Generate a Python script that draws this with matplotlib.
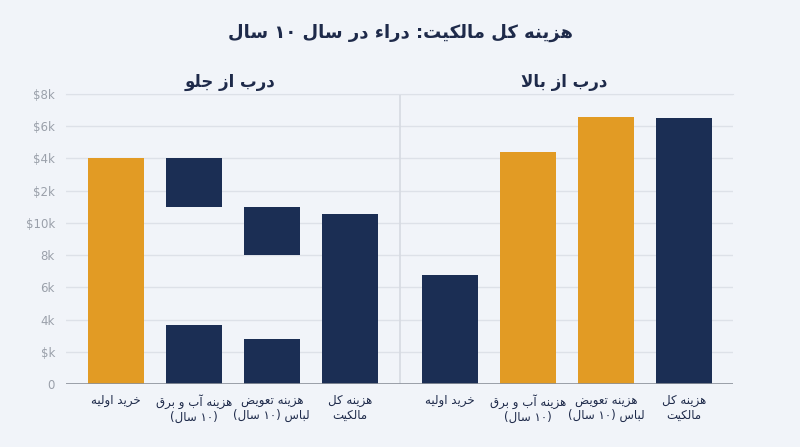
import matplotlib

matplotlib.use("Agg")
import matplotlib.pyplot as plt
import numpy as np

# values in $k
categories = ["خرید اولیه", "هزینه آب و برق\n(۱۰ سال)", "هزینه تعویض\nلباس (۱۰ سال)", "هزینه کل\nمالکیت"]
front_base = [14.0, 3.67, 2.79, 10.57]
front_float_low = [np.nan, 11.0, 8.0, np.nan]
front_float_high = [np.nan, 14.0, 11.0, np.nan]
top_values = [6.76, 14.37, 16.57, 16.5]
yticks = [0, 2, 4, 6, 8, 10, 12, 14, 16, 18]
ytick_labels = ["0", "$k", "4k", "6k", "8k", "$10k", "$2k", "$4k", "$6k", "$8k"]
title = "هزینه کل مالکیت: دراء در سال ۱۰ سال"
panel_titles = ["درب از جلو", "درب از بالا"]

ORANGE = "#e29b24"
NAVY = "#1b2e54"
BG = "#f1f4f9"
TEXT = "#1e2a4a"
GRID = "#dde1e8"
front_colors = [ORANGE, NAVY, NAVY, NAVY]
top_colors = [NAVY, ORANGE, ORANGE, NAVY]

# matplotlib has no arabic shaping, so pick presentation forms by hand
FORMS = {
    "ء": ("\uFE80", None, None, None),
    "آ": ("\uFE81", "\uFE82", None, None),
    "ا": ("\uFE8D", "\uFE8E", None, None),
    "ب": ("\uFE8F", "\uFE90", "\uFE91", "\uFE92"),
    "ت": ("\uFE95", "\uFE96", "\uFE97", "\uFE98"),
    "ج": ("\uFE9D", "\uFE9E", "\uFE9F", "\uFEA0"),
    "خ": ("\uFEA5", "\uFEA6", "\uFEA7", "\uFEA8"),
    "د": ("\uFEA9", "\uFEAA", None, None),
    "ر": ("\uFEAD", "\uFEAE", None, None),
    "ز": ("\uFEAF", "\uFEB0", None, None),
    "س": ("\uFEB1", "\uFEB2", "\uFEB3", "\uFEB4"),
    "ض": ("\uFEBD", "\uFEBE", "\uFEBF", "\uFEC0"),
    "ع": ("\uFEC9", "\uFECA", "\uFECB", "\uFECC"),
    "ق": ("\uFED5", "\uFED6", "\uFED7", "\uFED8"),
    "ل": ("\uFEDD", "\uFEDE", "\uFEDF", "\uFEE0"),
    "م": ("\uFEE1", "\uFEE2", "\uFEE3", "\uFEE4"),
    "ن": ("\uFEE5", "\uFEE6", "\uFEE7", "\uFEE8"),
    "ه": ("\uFEE9", "\uFEEA", "\uFEEB", "\uFEEC"),
    "و": ("\uFEED", "\uFEEE", None, None),
    "\u06A9": ("\uFB8E", "\uFB8F", "\uFB90", "\uFB91"),
    "\u06CC": ("\uFBFC", "\uFBFD", "\uFBFE", "\uFBFF"),
}
FORMS["\u0643"] = FORMS["\u06A9"]
FORMS["\u064A"] = FORMS["\u06CC"]
DIGITS = set("۰۱۲۳۴۵۶۷۸۹0123456789")


def _shape(text):
    out = []
    i = 0
    n = len(text)
    while i < n:
        c = text[i]
        if c not in FORMS:
            out.append(c)
            i += 1
            continue
        prev = text[i - 1] if i > 0 else None
        joins_prev = prev in FORMS and FORMS[prev][2] is not None
        if c == "ل" and i + 1 < n and text[i + 1] in ("ا", "آ"):
            lig = ("\uFEFB", "\uFEFC") if text[i + 1] == "ا" else ("\uFEF5", "\uFEF6")
            out.append(lig[1] if joins_prev else lig[0])
            i += 2
            continue
        nxt = text[i + 1] if i + 1 < n else None
        forms = FORMS[c]
        joins_next = forms[2] is not None and nxt in FORMS
        if joins_prev and joins_next:
            out.append(forms[3])
        elif joins_prev:
            out.append(forms[1])
        elif joins_next:
            out.append(forms[2])
        else:
            out.append(forms[0])
        i += 1
    return "".join(out)


def rtl(text):
    lines = []
    for line in text.split("\n"):
        rev = _shape(line)[::-1]
        # digit runs stay left to right, brackets get mirrored
        chars = []
        run = ""
        for ch in rev:
            if ch in DIGITS:
                run += ch
                continue
            if run:
                chars.append(run[::-1])
                run = ""
            chars.append({"(": ")", ")": "("}.get(ch, ch))
        if run:
            chars.append(run[::-1])
        lines.append("".join(chars))
    return "\n".join(lines)


plt.rcParams["font.family"] = ["DejaVu Sans"]

fig = plt.figure(figsize=(8.0, 4.47), dpi=100, facecolor=BG)
ax = fig.add_axes([0.0825, 0.1409, 0.834, 0.6488])
ax.set_facecolor(BG)

gap = 1.29
x_front = np.arange(len(categories))
x_top = x_front + len(categories) - 1 + gap
width = 0.72

ax.bar(x_front, front_base, width=width, color=front_colors, zorder=3)
float_h = np.array(front_float_high) - np.array(front_float_low)
ax.bar(x_front, float_h, bottom=front_float_low, width=width, color=NAVY, zorder=3)
ax.bar(x_top, top_values, width=width, color=top_colors, zorder=3)

ax.set_xlim(x_front[0] - 0.64, x_top[-1] + 0.63)
ax.set_ylim(0, 18)
ax.set_yticks(yticks)
ax.set_yticklabels(ytick_labels)
ax.yaxis.grid(True, color=GRID, linewidth=1.0, zorder=0)
ax.set_axisbelow(True)
for side in ["left", "right", "bottom"]:
    ax.spines[side].set_visible(False)
ax.spines["top"].set_color(GRID)
ax.axhline(0, color="#8c929c", linewidth=1.2, zorder=4)
ax.axvline((x_front[-1] + x_top[0]) / 2, color="#d6dae1", linewidth=1.2, zorder=1)
ax.tick_params(axis="y", length=0, pad=8, labelsize=8.5, labelcolor="#9aa0aa")

ax.set_xticks(np.concatenate([x_front, x_top]))
ax.set_xticklabels([rtl(c) for c in categories] * 2, fontsize=8.5, color=TEXT, linespacing=1.2)
ax.tick_params(axis="x", length=0, pad=7)

fig.text(0.5, 0.926, rtl(title), ha="center", va="center", fontsize=13, fontweight="bold", color=TEXT)
fig.text(0.344, 0.8166, rtl(panel_titles[0]), ha="right", va="center", fontsize=12, fontweight="bold", color=TEXT)
fig.text(0.759, 0.8166, rtl(panel_titles[1]), ha="right", va="center", fontsize=12, fontweight="bold", color=TEXT)

fig.savefig("out.png", dpi=100, facecolor=BG)
